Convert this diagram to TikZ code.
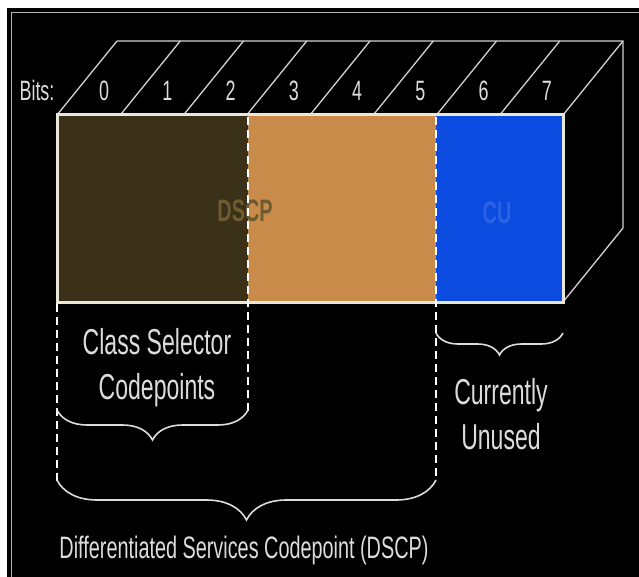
\documentclass[tikz,border=0pt]{standalone}
\usepackage{fontspec}
\setmainfont{Liberation Sans}[FakeStretch=0.64]
\usetikzlibrary{decorations.pathreplacing}
\definecolor{csbrown}{HTML}{3B3018}
\definecolor{dsorange}{HTML}{C98B4A}
\definecolor{cublue}{HTML}{0C4BE0}
\definecolor{dscptext}{HTML}{6E5B32}
\definecolor{cutext}{HTML}{2E62E4}
\definecolor{wirecol}{HTML}{D2D2D2}
\definecolor{lbltext}{HTML}{DCDCDC}
\definecolor{edgecol}{HTML}{EAE6DA}
\tikzset{
  wireline/.style={draw=wirecol, line width=1.3pt},
  dashline/.style={draw=white, line width=2pt, dash pattern=on 8pt off 5pt},
  curly/.style={draw=lbltext, line width=1.6pt, decorate,
    decoration={brace, mirror, amplitude=#1}},
  lbl/.style={text=lbltext, font=\fontsize{36}{40}\selectfont, inner sep=0pt, anchor=base},
  bitlbl/.style={text=lbltext, font=\fontsize{28}{30}\selectfont, inner sep=0pt, anchor=base},
  fieldlbl/.style={font=\fontsize{31}{34}\selectfont\bfseries, inner sep=0pt, anchor=base},
}

\begin{document}
\begin{tikzpicture}[x=1pt,y=-1pt]
\useasboundingbox (0,0) rectangle (639,577);
\fill[white] (0,0) rectangle (639,577);
\fill[black] (7,8) rectangle (639,577);
\draw[gray!60, line width=1pt] (11,577) -- (11,13) -- (639,13);

% wire frame of the box
\foreach \i in {0,...,8}
  \draw[wireline] (57+63.25*\i,115) -- (117+63.25*\i,41);
\draw[wireline] (117,41) -- (623,41) -- (623,228) -- (563,302);

% the three fields
\fill[csbrown] (57,115) rectangle (248,302);
\fill[dsorange] (248,115) rectangle (436,302);
\fill[cublue] (436,115) rectangle (563,302);
\draw[edgecol, line width=3pt] (57,115) rectangle (563,302);

\node[fieldlbl, text=dscptext] (dscp) at (245,222) {DSCP};
\node[fieldlbl, text=cutext] (cu) at (497,223) {CU};

% bit numbers
\node[bitlbl] (bits) at (37,101) {Bits:};
\foreach \i in {0,...,7}
  \node[bitlbl] (bit\i) at (104+63.25*\i,101) {\i};

% dashed guides
\draw[dashline] (57,304) -- (57,481);
\draw[dashline] (248,117) -- (248,411);
\draw[dashline] (436,117) -- (436,481);

% braces
\draw[curly=30pt] (57,410) -- (248,410);
\draw[curly=22pt] (436,333) -- (563,333);
\draw[curly=40pt] (57,480) -- (436,480);

% labels
\node[lbl] (csel1) at (157,354) {Class Selector};
\node[lbl] (csel2) at (157,399) {Codepoints};
\node[lbl] (cur1) at (501,404) {Currently};
\node[lbl] (cur2) at (501,449) {Unused};
\node[lbl, font=\fontsize{31}{34}\selectfont] (dscpfull) at (244,558) {Differentiated Services Codepoint (DSCP)};
\end{tikzpicture}
\end{document}
